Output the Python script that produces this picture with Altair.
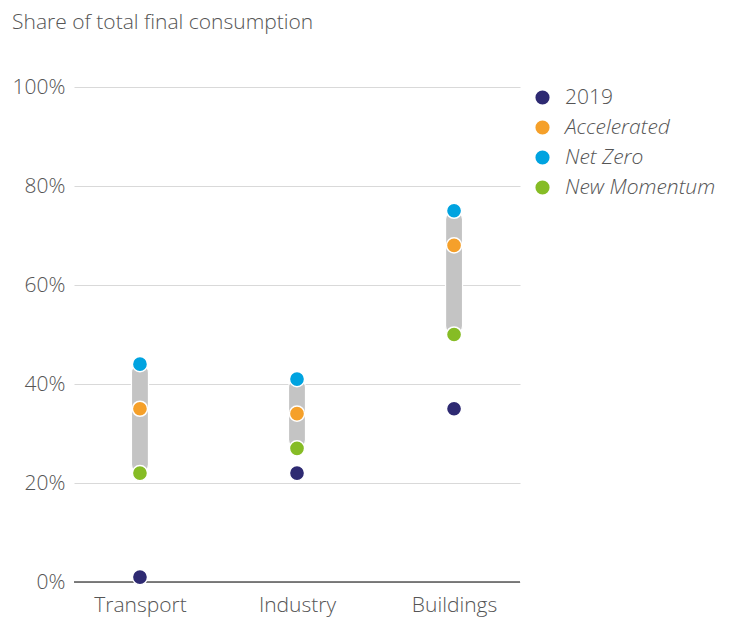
import altair as alt
import pandas as pd

sectors = ["Transport", "Industry", "Buildings"]
series = ["2019", "Accelerated", "Net Zero", "New Momentum"]
v2019 = [1, 22, 35]
accelerated = [35, 34, 68]
net_zero = [44, 41, 75]
new_momentum = [22, 27, 50]
colors = ["#2E2A72", "#F5A02A", "#00A3E0", "#86BC25"]
y_ticks = [0, 20, 40, 60, 80, 100]

rows = []
for i, s in enumerate(sectors):
    for name, vals in zip(series, [v2019, accelerated, net_zero, new_momentum]):
        rows.append({"sector": s, "series": name, "value": vals[i] / 100})
points = pd.DataFrame(rows)
ranges = pd.DataFrame({"sector": sectors,
                       "low": [v / 100 for v in new_momentum],
                       "high": [v / 100 for v in net_zero]})

font = "Open Sans"
fw = 300
fs = 21
xenc = alt.X("sector:N", sort=sectors, title=None,
             scale=alt.Scale(type="point", padding=0.42),
             axis=alt.Axis(domain=False, ticks=False, labelFontSize=fs, labelColor="#555555",
                           labelFont=font, labelFontWeight=fw, labelPadding=12, labelAngle=0))

bars = alt.Chart(ranges).mark_bar(color="#C4C4C4", stroke="white", strokeWidth=1.2,
                                  width=17, cornerRadius=8.5).encode(
    x=xenc,
    y=alt.Y("low:Q", scale=alt.Scale(domain=[0, 1]),
            axis=alt.Axis(values=[t / 100 for t in y_ticks], format=".0%", domain=False, ticks=False,
                          labelFontSize=fs, labelColor="#555555", labelFont=font, labelFontWeight=fw,
                          labelPadding=9, gridColor="#D9D9D9", gridWidth=1.2),
            title=None),
    y2="high:Q",
)

baseline = alt.Chart(pd.DataFrame({"z": [0]})).mark_rule(color="#555555", strokeWidth=1.5).encode(
    y=alt.Y("z:Q"))

dots = alt.Chart(points).mark_point(filled=True, size=230, stroke="white", strokeWidth=1.5,
                                    opacity=1).encode(
    x=alt.X("sector:N", sort=sectors),
    y=alt.Y("value:Q"),
    color=alt.Color("series:N", sort=series,
                    scale=alt.Scale(domain=series, range=colors),
                    legend=alt.Legend(title=None, orient="right", offset=12, symbolSize=200,
                                      symbolType="circle", symbolStrokeWidth=0,
                                      labelFontSize=fs, labelColor="#555555", labelFont=font,
                                      labelFontWeight=fw, rowPadding=8, labelOffset=12,
                                      labelFontStyle=alt.expr("datum.label == '2019' ? 'normal' : 'italic'"))),
)

chart = alt.layer(baseline, bars, dots).properties(
    width=446, height=495,
    title=alt.TitleParams("Share of total final consumption", anchor="start", fontSize=fs,
                          fontWeight=fw, color="#555555", font=font, offset=43),
    padding={"left": 4, "top": 4, "right": 2, "bottom": 2},
).configure_view(stroke=None)

chart.save("out.html", embed_options={"renderer": "svg", "actions": False})
